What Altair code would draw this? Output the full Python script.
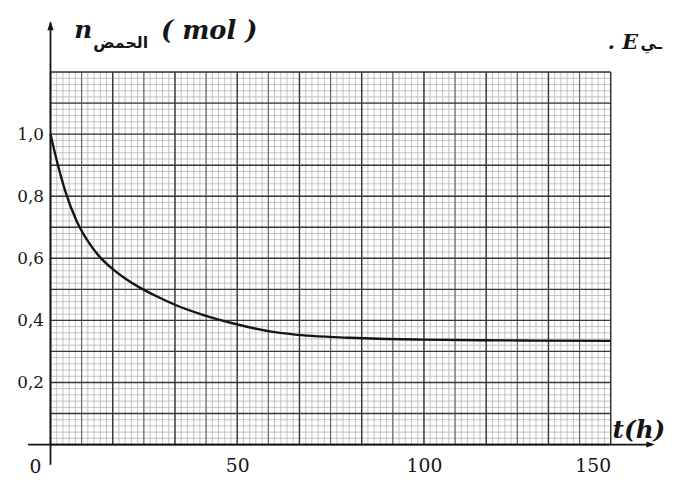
import altair as alt
import pandas as pd

# ---- data ----
t_h = [0, 2, 4, 7, 10, 13, 17, 20, 23, 28, 33, 41, 49, 60, 65, 70, 80, 90, 100, 115, 130, 150]
n_mol = [1.0, 0.9, 0.815, 0.72, 0.655, 0.607, 0.562, 0.535, 0.512, 0.48, 0.452, 0.417,
         0.39, 0.362, 0.355, 0.35, 0.344, 0.34, 0.338, 0.336, 0.335, 0.334]
x_tick_values = [50, 100, 150]
y_tick_values = [0.2, 0.4, 0.6, 0.8, 1.0]

# graph-paper line positions (in data units)
fine_x = [i * 150 / 90 for i in range(91)]
fine_y = [i * 0.02 for i in range(61)]
mid_x = [i * 150 / 18 for i in range(1, 19, 2)]
major_x = [i * 150 / 9 for i in range(0, 10)]
major_y = [i * 0.1 for i in range(0, 13)]

serif = "DejaVu Serif"

xs = alt.Scale(domain=[0, 150], nice=False, zero=False)
ys = alt.Scale(domain=[0, 1.2], nice=False, zero=False)

x_axis = alt.Axis(values=x_tick_values, title=None, domain=False, ticks=False, grid=False,
                  labelFont=serif, labelFontSize=19, labelColor="#161616", labelPadding=12)
y_axis = alt.Axis(values=y_tick_values, title=None, domain=False, ticks=False, grid=False,
                  labelExpr="replace(format(datum.value, '.1f'), '.', ',')",
                  labelFont=serif, labelFontSize=17, labelColor="#161616", labelPadding=7)


def X(field):
    return alt.X(field, scale=xs, axis=x_axis)


def Y(field):
    return alt.Y(field, scale=ys, axis=y_axis)


def vlines(vals, color, w):
    return alt.Chart(pd.DataFrame({"x": vals})).mark_rule(color=color, strokeWidth=w).encode(
        x=X("x:Q"))


def hlines(vals, color, w):
    return alt.Chart(pd.DataFrame({"y": vals})).mark_rule(color=color, strokeWidth=w).encode(
        y=Y("y:Q"))


grid = [
    vlines(fine_x, "#a9a9a9", 0.7),
    hlines(fine_y, "#a9a9a9", 0.7),
    vlines(mid_x, "#606060", 1.1),
    hlines(major_y, "#383838", 1.4),
    vlines(major_x, "#333333", 1.4),
]

# axis lines with arrows
yaxis_line = alt.Chart(pd.DataFrame({"x": [0], "y": [-0.065], "y2": [1.36]})).mark_rule(
    color="#111", strokeWidth=1.8).encode(x=X("x:Q"), y=Y("y:Q"), y2="y2:Q")
xaxis_line = alt.Chart(pd.DataFrame({"x": [-6], "x2": [160], "y": [0]})).mark_rule(
    color="#111", strokeWidth=1.8).encode(x=X("x:Q"), x2="x2:Q", y=Y("y:Q"))

arrow_up = alt.Chart(pd.DataFrame({"x": [0], "y": [1.349]})).mark_point(
    shape="M -0.35 0.5 L 0 -0.5 L 0.35 0.5 Z", filled=True, color="#111", size=324, opacity=1).encode(
    x=X("x:Q"), y=Y("y:Q"))
arrow_right = alt.Chart(pd.DataFrame({"x": [160.7], "y": [0]})).mark_point(
    shape="M -0.5 -0.35 L 0.5 0 L -0.5 0.35 Z", filled=True, color="#111", size=289, opacity=1).encode(
    x=X("x:Q"), y=Y("y:Q"))

curve = alt.Chart(pd.DataFrame({"t": t_h, "n": n_mol})).mark_line(
    color="#151515", strokeWidth=2.4, interpolate="monotone").encode(x=X("t:Q"), y=Y("n:Q"))


def label(text, x, y, font=serif, size=20, style="normal", weight="normal", align="left", baseline="alphabetic"):
    return alt.Chart(pd.DataFrame({"x": [x], "y": [y], "s": [text]})).mark_text(
        font=font, fontSize=size, fontStyle=style, fontWeight=weight, align=align,
        baseline=baseline, color="#151515").encode(x=X("x:Q"), y=Y("y:Q"), text="s:N")


texts = [
    label("n", 6.35, 1.311, size=25, style="italic", weight="bold"),
    label("الحمض", 18.8, 1.279, font="DejaVu Sans", size=16, weight="bold", align="center"),
    label("( mol )", 42.5, 1.305, size=26, style="italic", weight="bold", align="center"),
    label("0", -4, -0.045, size=19, align="center", baseline="top"),
    label("t(h)", 150.5, 0.021, size=25, style="italic", weight="bold"),
    label(". E", 149.2, 1.273, size=21, style="italic", weight="bold"),
    label("ـي", 158.0, 1.273, font="DejaVu Sans", size=16, weight="bold"),
]

chart = alt.layer(*grid, yaxis_line, xaxis_line, arrow_up, arrow_right, curve, *texts).properties(
    width=567, height=377,
    autosize=alt.AutoSizeParams(type="none"),
    padding={"left": 43, "top": 62, "right": 58, "bottom": 30},
).configure_view(stroke=None, fill="#e6e6e6").configure(background="white")

chart.save("out.html", embed_options={"renderer": "svg", "actions": False})
